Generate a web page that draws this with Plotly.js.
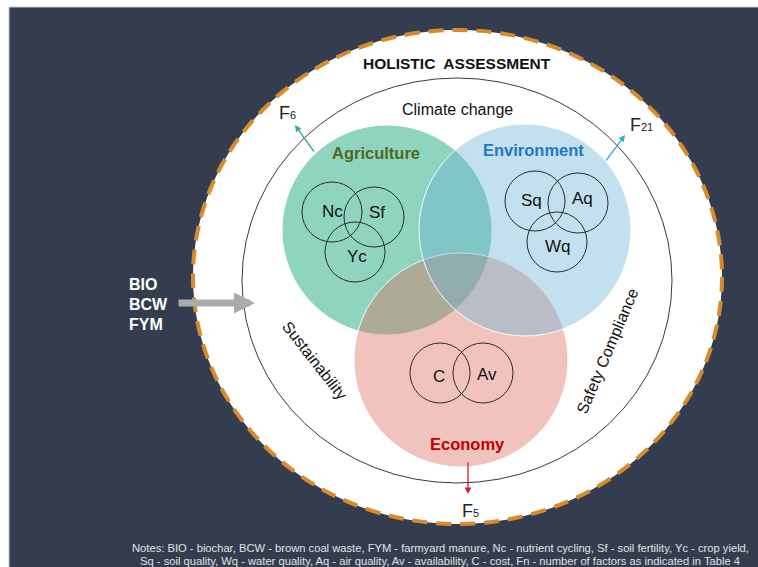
<!DOCTYPE html>
<html>
<head>
<meta charset="utf-8">
<script src="https://cdn.plot.ly/plotly-3.0.1.min.js"></script>
<style>html,body{margin:0;padding:0;background:#fff;}#chart{width:758px;height:567px;}</style>
</head>
<body>
<div id="chart"></div>
<script>
// ---- content (data) ----
const title = "HOLISTIC  ASSESSMENT";
const outerThemes = ["Climate change", "Sustainability", "Safety Compliance"];
const domains = ["Agriculture", "Environment", "Economy"];
const factorCounts = [6, 21, 5];
const indicators = [["Nc", "Sf", "Yc"], ["Sq", "Aq", "Wq"], ["C", "Av"]];
const inputs = ["BIO", "BCW", "FYM"];
const notes = [
  "Notes: BIO - biochar, BCW - brown coal waste, FYM - farmyard manure, Nc - nutrient cycling, Sf - soil fertility, Yc - crop yield,",
  "Sq - soil quality, Wq - water quality, Aq - air quality, Av - availability, C - cost, Fn - number of factors as indicated in Table 4"
];

// ---- geometry / style (layout only) ----
const W = 758, H = 567;
const FONT = "Liberation Sans, Arial, sans-serif";
const domainGeom = [
  {cx: 387, cy: 230, r: 105, fill: "#8fd4be", label: "#4f6a1c", lx: 376, ly: 153},
  {cx: 525, cy: 230, r: 106, fill: "rgba(105,178,213,0.4)", label: "#1f77c4", lx: 533, ly: 150},
  {cx: 461, cy: 360, r: 107, fill: "rgba(218,108,88,0.4)", label: "#c00000", lx: 467, ly: 444}
];
const drawOrder = [0, 2, 1];
const indGeom = [
  [{cx:332, cy:212, lx:332, ly:211}, {cx:374, cy:217, lx:377, ly:212}, {cx:355, cy:252, lx:357, ly:256}],
  [{cx:535, cy:201, lx:531, ly:200}, {cx:578, cy:203, lx:582, ly:198}, {cx:557, cy:242, lx:558, ly:246}],
  [{cx:440, cy:373, lx:439, ly:376}, {cx:483, cy:373, lx:487, ly:374}]
];
const indR = 30;
const arrows = [
  {tx:315, ty:153, hx:295, hy:125, color:"#2fb37a", fx:287, fy:113},
  {tx:605, ty:162, hx:625, hy:135, color:"#33aee0", fx:641, fy:125},
  {tx:468, ty:461, hx:468, hy:494, color:"#d0202a", fx:470, fy:511}
];

const shapes = [];
const annotations = [];

// dark background panel
shapes.push({type:"rect", xref:"x", yref:"y", x0:9, x1:W+2, y0:7, y1:H+2,
  fillcolor:"#333d4f", line:{color:"#c9c9cc", width:1}});
// outer white disc with orange dashed edge
shapes.push({type:"circle", xref:"x", yref:"y", x0:193, x1:722, y0:30, y1:524,
  fillcolor:"#ffffff", line:{color:"#d98b2c", width:4, dash:"15px,9px"}});
// inner thin ring
shapes.push({type:"circle", xref:"x", yref:"y", x0:242, x1:672, y0:78, y1:483,
  fillcolor:"rgba(0,0,0,0)", line:{color:"#3a3a3a", width:1}});

// domain circles
drawOrder.forEach(i => {
  const g = domainGeom[i];
  shapes.push({type:"circle", xref:"x", yref:"y", x0:g.cx-g.r, x1:g.cx+g.r, y0:g.cy-g.r, y1:g.cy+g.r,
    fillcolor:g.fill, line:{color:"rgba(255,255,255,0.9)", width:1}});
});
// indicator circles + labels
indicators.forEach((grp, i) => {
  grp.forEach((name, j) => {
    const g = indGeom[i][j];
    shapes.push({type:"circle", xref:"x", yref:"y", x0:g.cx-indR, x1:g.cx+indR, y0:g.cy-indR, y1:g.cy+indR,
      fillcolor:"rgba(0,0,0,0)", line:{color:"#2b2b2b", width:1}});
    annotations.push({x:g.lx, y:g.ly, xref:"x", yref:"y", text:name, showarrow:false,
      font:{family:FONT, size:17, color:"#111"}});
  });
});
// domain labels
domains.forEach((d, i) => {
  const g = domainGeom[i];
  annotations.push({x:g.lx, y:g.ly, xref:"x", yref:"y", text:"<b>"+d+"</b>", showarrow:false,
    font:{family:FONT, size:16.5, color:g.label}});
});
// factor arrows + labels
factorCounts.forEach((n, i) => {
  const a = arrows[i];
  annotations.push({x:a.hx, y:a.hy, ax:a.tx, ay:a.ty, xref:"x", yref:"y", axref:"x", ayref:"y",
    text:"", showarrow:true, arrowhead:2, arrowsize:1, arrowwidth:1.3, arrowcolor:a.color});
  annotations.push({x:a.fx, y:a.fy, xref:"x", yref:"y",
    text:"F<span style='font-size:11px'>"+n+"</span>", showarrow:false,
    font:{family:FONT, size:18, color:"#222"}});
});
// title and themes
annotations.push({x:457, y:63, xref:"x", yref:"y", text:"<b>"+title+"</b>", showarrow:false,
  font:{family:FONT, size:15.5, color:"#111"}});
annotations.push({x:457, y:109, xref:"x", yref:"y", text:outerThemes[0], showarrow:false,
  font:{family:FONT, size:16, color:"#111"}});
annotations.push({x:315, y:360, xref:"x", yref:"y", text:outerThemes[1], showarrow:false, textangle:52,
  font:{family:FONT, size:16, color:"#111"}});
annotations.push({x:607, y:351, xref:"x", yref:"y", text:outerThemes[2], showarrow:false, textangle:-67,
  font:{family:FONT, size:16, color:"#111"}});
// inputs
const inputY = [284, 304, 324];
inputs.forEach((t, i) => {
  annotations.push({x:127, y:inputY[i], xref:"x", yref:"y", text:"<b>"+t+"</b>", showarrow:false,
    xanchor:"left", font:{family:FONT, size:16, color:"#ffffff"}});
});
annotations.push({x:255, y:303, ax:177, ay:303, xref:"x", yref:"y", axref:"x", ayref:"y",
  text:"", showarrow:true, arrowhead:2, arrowsize:0.6, arrowwidth:7, arrowcolor:"#ababab"});
// notes
notes.forEach((t, i) => {
  annotations.push({x:440, y:548 + i*13, xref:"x", yref:"y", text:t, showarrow:false,
    font:{family:FONT, size:11.2, color:"#e2e2e2"}});
});

const layout = {
  width: W, height: H,
  margin: {l:0, r:0, t:0, b:0},
  paper_bgcolor: "#ffffff", plot_bgcolor: "rgba(0,0,0,0)",
  xaxis: {range:[0, W], visible:false, fixedrange:true},
  yaxis: {range:[H, 0], visible:false, fixedrange:true},
  showlegend: false,
  shapes: shapes,
  annotations: annotations
};
Plotly.newPlot("chart", [], layout, {staticPlot:true, displayModeBar:false});
</script>
</body>
</html>
